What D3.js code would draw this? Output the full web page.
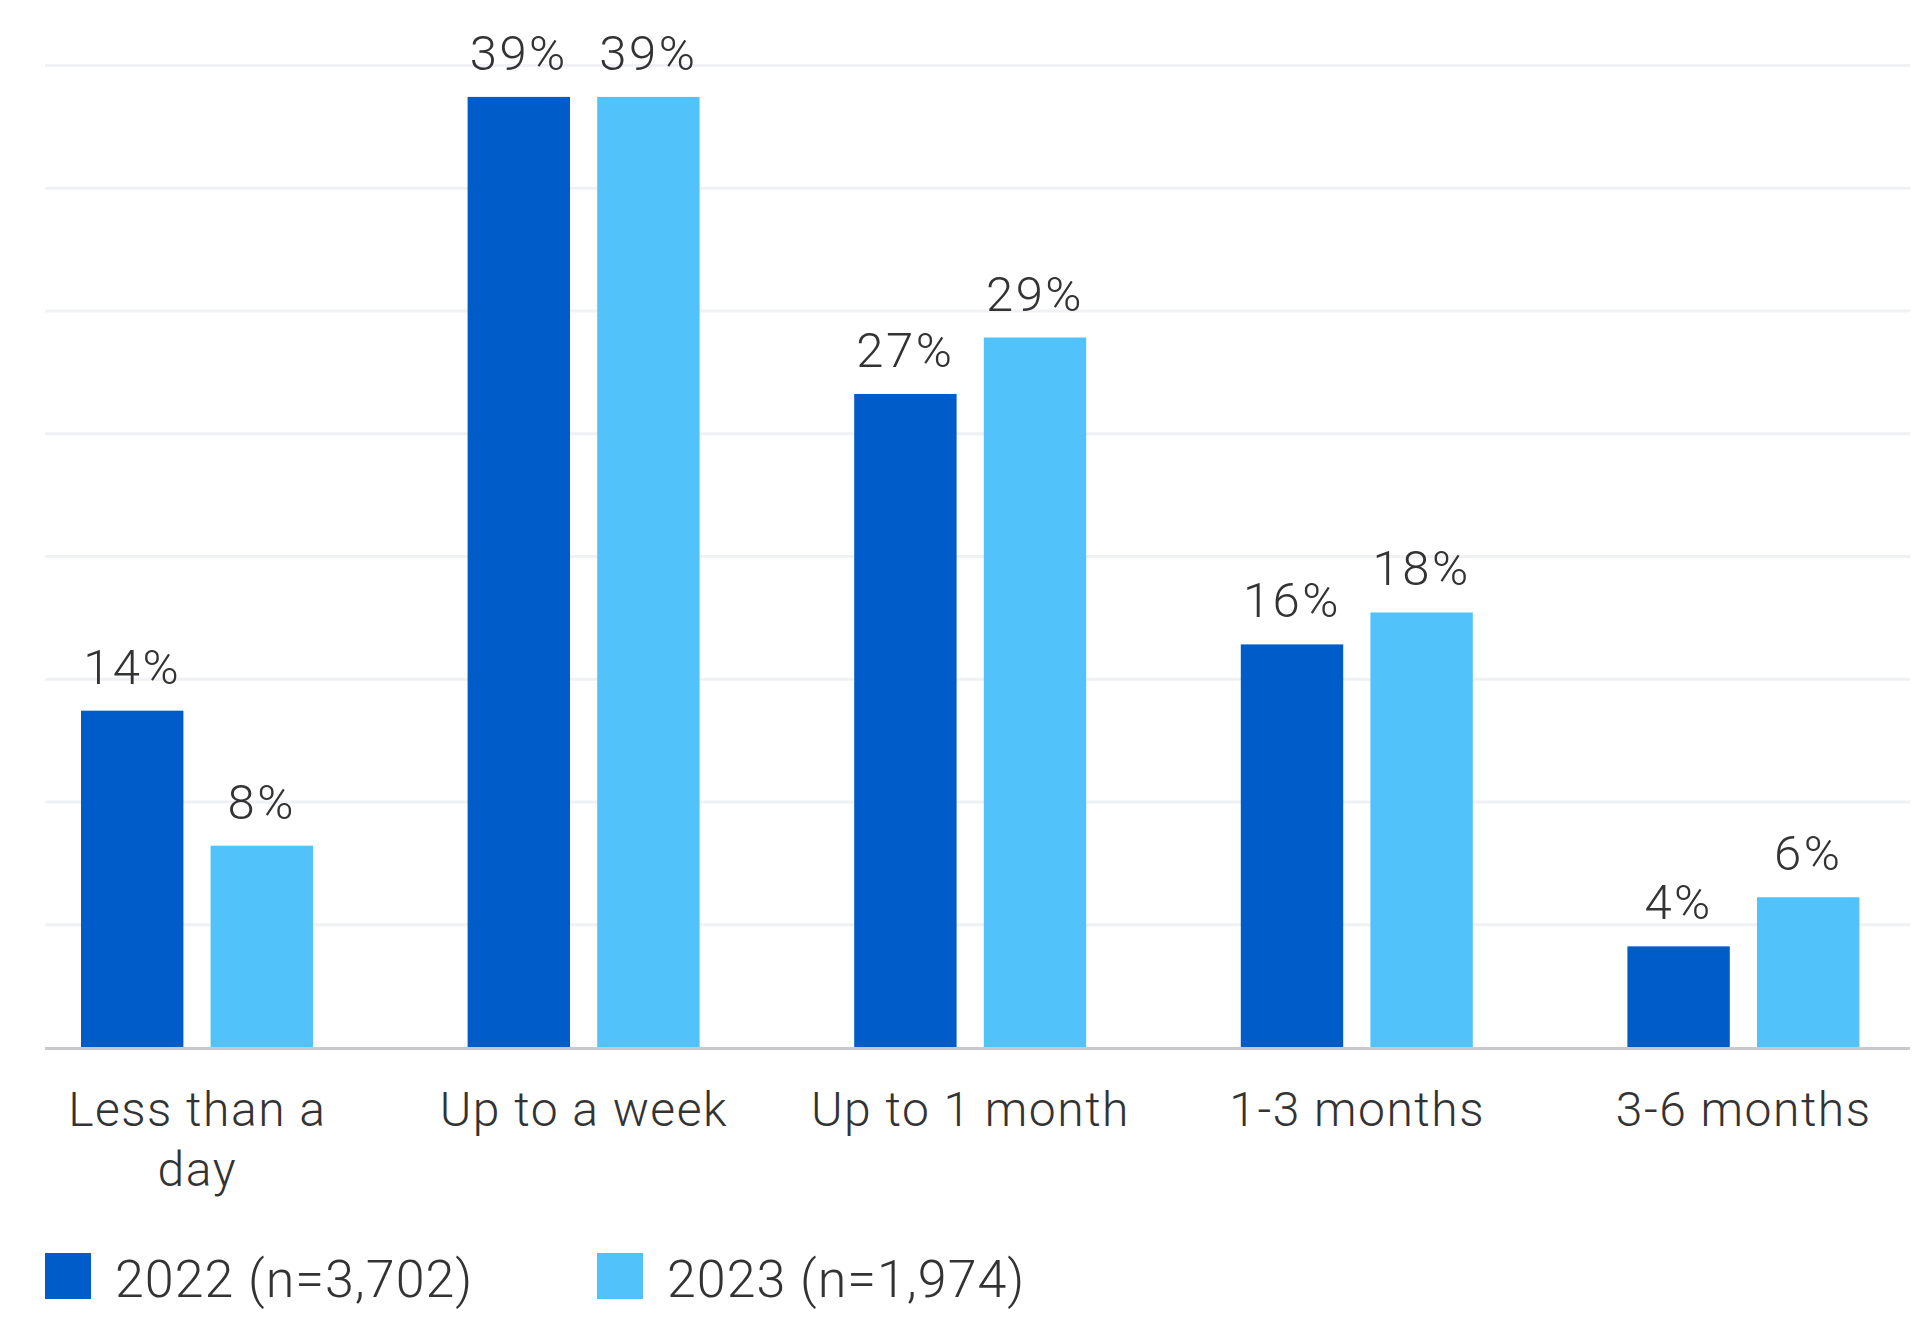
<!DOCTYPE html>
<html lang="en">
<head>
<meta charset="utf-8">
<script src="https://cdn.jsdelivr.net/npm/d3@7/dist/d3.min.js"></script>
<title>Time to detect by year</title>
<style>
  body { margin: 0; background: #fff; }
  text { font-family: Roboto, "Noto Sans", sans-serif; font-weight: 300; fill: #333; }
</style>
</head>
<body>
<svg width="1920" height="1323"></svg>
<script>
// data
var categories = ["Less than a day", "Up to a week", "Up to 1 month", "1-3 months", "3-6 months"];
var categoryLines = [["Less than a", "day"], ["Up to a week"], ["Up to 1 month"], ["1-3 months"], ["3-6 months"]];
var seriesNames = ["2022 (n=3,702)", "2023 (n=1,974)"];
var values2022 = [13.7, 38.7, 26.6, 16.4, 4.1];
var values2023 = [8.2, 38.7, 28.9, 17.7, 6.1];
var yTicks = [5, 10, 15, 20, 25, 30, 35, 40];

var colors = ["#005cc8", "#52c3fa"];

var svg = d3.select("svg");

var plotLeft = 45, plotRight = 1910;

var x0 = d3.scaleBand()
  .domain(categories)
  .range([4, 1937])
  .padding(0);

var x1 = d3.scaleBand()
  .domain([0, 1])
  .range([77, 309])
  .paddingInner(0.21);

var y = d3.scaleLinear()
  .domain([0, 40])
  .range([1047, 65]);

// gridlines
svg.append("g")
  .attr("transform", "translate(" + plotLeft + ",0)")
  .call(d3.axisLeft(y).tickValues(yTicks).tickSize(-(plotRight - plotLeft)).tickFormat(""))
  .call(function(g) {
    g.select(".domain").remove();
    g.selectAll(".tick line").attr("stroke", "#f0f1f4").attr("stroke-width", 3);
  });

var data = categories.map(function(c, i) {
  return { cat: c, vals: [values2022[i], values2023[i]] };
});

var groups = svg.selectAll(".group")
  .data(data)
  .enter().append("g")
  .attr("class", "group")
  .attr("transform", function(d) { return "translate(" + x0(d.cat) + ",0)"; });

groups.selectAll("rect")
  .data(function(d) { return d.vals.map(function(v, k) { return { k: k, v: v }; }); })
  .enter().append("rect")
  .attr("x", function(d) { return x1(d.k); })
  .attr("width", x1.bandwidth())
  .attr("y", function(d) { return y(d.v); })
  .attr("height", function(d) { return y(0) - y(d.v); })
  .attr("fill", function(d) { return colors[d.k]; });

groups.selectAll(".val")
  .data(function(d) { return d.vals.map(function(v, k) { return { k: k, v: v }; }); })
  .enter().append("text")
  .attr("class", "val")
  .attr("x", function(d) { return x1(d.k) + x1.bandwidth() / 2; })
  .attr("y", function(d) { return y(d.v) - 27; })
  .attr("text-anchor", "middle")
  .style("font-size", "49px")
  .style("letter-spacing", "2.5px")
  .text(function(d) { return Math.round(d.v) + "%"; });

// baseline
svg.append("line")
  .attr("x1", plotLeft).attr("x2", plotRight)
  .attr("y1", y(0) + 1.5).attr("y2", y(0) + 1.5)
  .attr("stroke", "#c8c9cc")
  .attr("stroke-width", 3);

// category axis
var xAxis = svg.append("g")
  .attr("transform", "translate(0," + y(0) + ")")
  .call(d3.axisBottom(x0).tickSize(0).tickFormat(""));
xAxis.select(".domain").remove();
xAxis.selectAll(".tick").each(function(c, i) {
  var t = d3.select(this).append("text")
    .attr("text-anchor", "middle")
    .attr("y", 79)
    .style("font-size", "48px")
    .style("letter-spacing", "1.5px");
  categoryLines[i].forEach(function(line, j) {
    t.append("tspan").attr("x", 0).attr("dy", j === 0 ? 0 : 60).text(line);
  });
});

// legend
var legendX = [45, 597];
var legend = svg.selectAll(".legend")
  .data(seriesNames)
  .enter().append("g")
  .attr("class", "legend")
  .attr("transform", function(d, i) { return "translate(" + legendX[i] + ",1253)"; });

legend.append("rect")
  .attr("width", 46)
  .attr("height", 46)
  .attr("fill", function(d, i) { return colors[i]; });

legend.append("text")
  .attr("x", 70)
  .attr("y", 44)
  .style("font-size", "52px")
  .style("letter-spacing", "1px")
  .text(function(d) { return d; });
</script>
</body>
</html>
